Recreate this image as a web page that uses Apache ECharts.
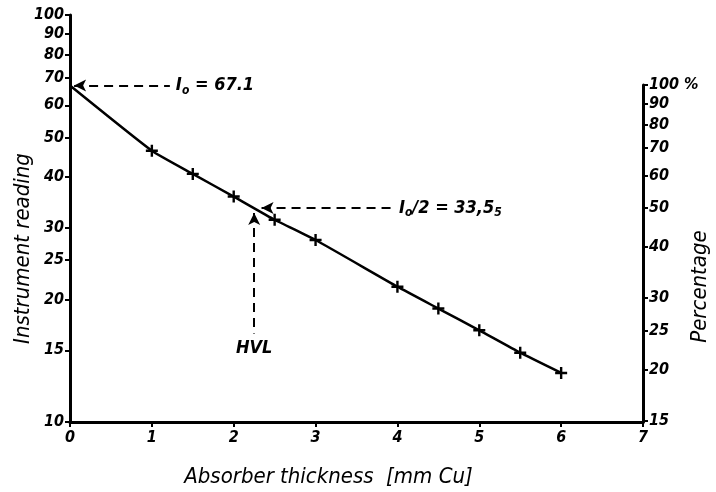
<!DOCTYPE html>
<html>
<head>
<meta charset="utf-8">
<script src="https://cdn.jsdelivr.net/npm/echarts@6/dist/echarts.min.js"></script>
<style>
  html, body { margin: 0; background: #fff; }
  #chart { width: 716px; height: 492px; }
</style>
</head>
<body>
<div id="chart"></div>
<script>
// absorber thickness (mm Cu) and instrument readings
const thickness = [0, 1, 1.5, 2, 2.5, 3, 4, 4.5, 5, 5.5, 6];
const reading = [67.1, 46.4, 40.7, 35.8, 31.4, 28.0, 21.5, 19.0, 16.8, 14.8, 13.2];
const readingTicks = [10, 15, 20, 25, 30, 40, 50, 60, 70, 80, 90, 100];
const percentTicks = [15, 20, 25, 30, 40, 50, 60, 70, 80, 90, 100];
const I0 = 67.1;
const halfI0 = 33.55;
const hvl = 2.25;

const font = 'DejaVu Sans Condensed, DejaVu Sans, sans-serif';
const tickFont = { color: '#000', fontFamily: font, fontStyle: 'italic', fontWeight: 'bold', fontSize: 16 };
const nameFont = { color: '#000', fontFamily: font, fontStyle: 'italic', fontSize: 22 };
const axisLine = { show: true, onZero: false, lineStyle: { color: '#000', width: 3 } };
const axisTick = { show: true, length: 5, lineStyle: { color: '#000', width: 2 } };

let chart = echarts.init(document.getElementById('chart'));

// data points (no cross at x = 0)
const pts = thickness.map((t, i) => ({
  value: [t, reading[i]],
  symbolSize: i === 0 ? 0 : 12
}));

const dash = { color: '#000', width: 2, type: [9, 6] };
const annoText = {
  color: '#000', fontFamily: font, fontStyle: 'italic', fontWeight: 'bold', fontSize: 18,
  rich: {
    s: { fontFamily: font, fontStyle: 'italic', fontWeight: 'bold', fontSize: 12, verticalAlign: 'bottom', padding: [10, 0, 0, 0] },
    n: { fontFamily: font, fontStyle: 'italic', fontWeight: 'bold', fontSize: 18 }
  }
};

let option = {
  animation: false,
  grid: [
    { left: 70, right: 73, top: 15, bottom: 70, outerBoundsMode: 'none' },
    { left: 70, right: 73, top: 85, bottom: 70, outerBoundsMode: 'none' }
  ],
  xAxis: [
    {
      type: 'value', gridIndex: 0, min: 0, max: 7, interval: 1,
      axisLine: axisLine, axisTick: axisTick,
      axisLabel: Object.assign({ margin: 8 }, tickFont),
      splitLine: { show: false },
      name: 'Absorber thickness  [mm Cu]', nameLocation: 'middle', nameGap: 44,
      nameTextStyle: Object.assign({ padding: [0, 56, 0, 0] }, nameFont)
    },
    { type: 'value', gridIndex: 1, min: 0, max: 7, show: false }
  ],
  yAxis: [
    {
      type: 'log', gridIndex: 0, min: 10, max: 100,
      axisLine: axisLine,
      axisTick: Object.assign({ customValues: readingTicks }, axisTick),
      axisLabel: Object.assign({ customValues: readingTicks, margin: 6 }, tickFont),
      splitLine: { show: false },
      minorTick: { show: false },
      name: 'Instrument reading', nameLocation: 'middle', nameGap: 36, nameRotate: 90,
      nameMoveOverlap: false,
      nameTextStyle: Object.assign({ padding: [0, 60, 0, 0] }, nameFont)
    },
    {
      type: 'log', gridIndex: 1, position: 'right', min: 1000 / I0, max: 100,
      axisLine: axisLine,
      axisTick: Object.assign({ customValues: percentTicks }, axisTick),
      axisLabel: Object.assign({
        customValues: percentTicks, margin: 6,
        formatter: v => (Math.round(v) === 100 ? '100 %' : String(Math.round(v)))
      }, tickFont),
      splitLine: { show: false },
      name: 'Percentage', nameLocation: 'middle', nameGap: 46, nameRotate: 90,
      nameMoveOverlap: false,
      nameTextStyle: Object.assign({ padding: [0, 66, 0, 0] }, nameFont)
    }
  ],
  series: [
    {
      type: 'line',
      xAxisIndex: 0, yAxisIndex: 0,
      data: pts,
      smooth: 0.15,
      symbol: 'path://M4,0h2v4h4v2h-4v4h-2v-4h-4v-2h4z',
      itemStyle: { color: '#000' },
      lineStyle: { color: '#000', width: 2.5 },
      markLine: {
        silent: true,
        symbol: ['arrow', 'none'],
        symbolSize: [9, 12],
        lineStyle: dash,
        data: [
          [
            { coord: [0.05, I0] },
            {
              coord: [1.22, I0],
              label: Object.assign({ show: true, position: 'end', distance: 6, formatter: '{n|I}{s|o}{n| = 67.1}' }, annoText)
            }
          ],
          [
            { coord: [2.34, halfI0] },
            {
              coord: [3.92, halfI0],
              label: Object.assign({ show: true, position: 'end', distance: 8, formatter: '{n|I}{s|o}{n|/2 = 33,5}{s|5}' }, annoText)
            }
          ],
          [
            { coord: [hvl, 32.6] },
            {
              coord: [hvl, 16.5],
              label: Object.assign({ show: true, position: 'end', distance: 6, formatter: 'HVL' }, annoText)
            }
          ]
        ]
      }
    }
  ]
};

option && chart.setOption(option);
</script>
</body>
</html>
